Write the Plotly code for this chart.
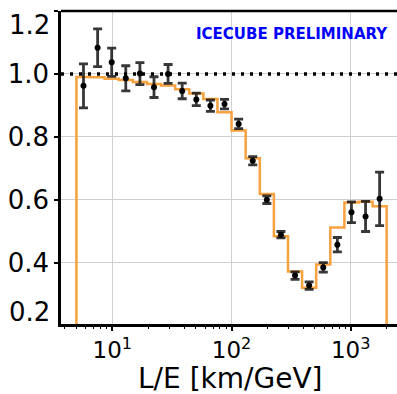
import plotly.graph_objects as go

# ---- data ----
bin_edges = [5.00, 6.57, 8.62, 11.32, 14.87, 19.52, 25.63, 33.66, 44.20, 58.04,
             76.21, 100.08, 131.4, 172.6, 226.6, 297.6, 390.7, 513.1, 673.7,
             884.7, 1161.7, 1525.5, 2000.0]
hist_values = [0.990, 0.989, 0.985, 0.981, 0.974, 0.968, 0.963, 0.951, 0.938,
               0.920, 0.878, 0.820, 0.732, 0.618, 0.484, 0.372, 0.320, 0.394,
               0.512, 0.591, 0.594, 0.579]
point_x = [5.73, 7.53, 9.88, 12.97, 17.04, 22.37, 29.37, 38.57, 50.65, 66.51,
           87.33, 114.7, 150.6, 197.8, 259.7, 341.0, 447.8, 588.0, 772.1,
           1013.8, 1331.2, 1746.8]
point_y = [0.962, 1.083, 1.037, 0.986, 1.001, 0.958, 1.000, 0.946, 0.919,
           0.899, 0.904, 0.841, 0.724, 0.600, 0.489, 0.359, 0.327, 0.385,
           0.457, 0.560, 0.547, 0.603]
point_err = [0.070, 0.060, 0.045, 0.040, 0.035, 0.033, 0.030, 0.025, 0.020,
             0.018, 0.015, 0.015, 0.013, 0.012, 0.010, 0.012, 0.012, 0.015,
             0.023, 0.033, 0.048, 0.085]
x_tickvals = [10, 100, 1000]
x_ticktext = ["10<sup>1</sup>", "10<sup>2</sup>", "10<sup>3</sup>"]
y_tickvals = [0.2, 0.4, 0.6, 0.8, 1.0, 1.2]
y_ticktext = ["", "0.4", "0.6", "0.8", "1.0", ""]

FONT = "DejaVu Sans"

# step outline of the histogram
step_x = [bin_edges[0]]
step_y = [0.0]
for i, v in enumerate(hist_values):
    step_x += [bin_edges[i], bin_edges[i + 1]]
    step_y += [v, v]
step_x.append(bin_edges[-1])
step_y.append(0.0)

minor_vals = [m * 10 ** d for d in range(0, 4) for m in range(2, 10)]

fig = go.Figure()
fig.add_trace(go.Scatter(x=step_x, y=step_y, mode="lines",
                         line=dict(color="#f7a13f", width=2.5),
                         hoverinfo="skip", showlegend=False))
fig.add_trace(go.Scatter(x=point_x, y=point_y, mode="markers",
                         marker=dict(color="black", size=6),
                         error_y=dict(type="data", array=point_err,
                                      color="rgba(20,20,20,0.85)",
                                      thickness=2.8, width=4.5),
                         showlegend=False))

fig.add_shape(type="line", xref="paper", yref="y", x0=0, x1=1, y0=1.0, y1=1.0,
              line=dict(color="black", width=3.5, dash="3px,6px"))
fig.add_shape(type="line", xref="paper", yref="paper", x0=0, x1=1, y0=1, y1=1,
              line=dict(color="black", width=2.5))

fig.add_annotation(text="<b>ICECUBE PRELIMINARY</b>", xref="paper", yref="paper",
                   x=0.6875, y=0.9265, xanchor="center", yanchor="middle",
                   showarrow=False,
                   font=dict(family=FONT, size=15, color="#0000ff"))
# extreme y tick labels (drawn shifted inward as in the reference)
fig.add_annotation(text="1.2", xref="paper", yref="paper", x=0, y=0.955,
                   xanchor="right", yanchor="middle", xshift=-9, showarrow=False,
                   font=dict(family=FONT, size=26, color="black"))
fig.add_annotation(text="0.2", xref="paper", yref="paper", x=0, y=0.039,
                   xanchor="right", yanchor="middle", xshift=-9, showarrow=False,
                   font=dict(family=FONT, size=26, color="black"))
# x axis title
fig.add_annotation(text="L/E [km/GeV]", xref="paper", yref="paper",
                   x=0.504, y=-0.175, xanchor="center", yanchor="middle",
                   showarrow=False,
                   font=dict(family=FONT, size=28, color="black"))

fig.update_layout(
    width=397, height=394,
    margin=dict(l=61, r=0, t=11, b=70),
    paper_bgcolor="white", plot_bgcolor="white",
    font=dict(family=FONT, color="black"),
)
fig.update_xaxes(
    type="log", range=[0.5696, 3.388], automargin=False,
    tickmode="array", tickvals=x_tickvals, ticktext=x_ticktext,
    tickfont=dict(size=23), ticks="outside", ticklen=4, tickwidth=1.5,
    tickcolor="black",
    showgrid=True, gridcolor="#cfcfcf", gridwidth=1,
    showline=True, linecolor="black", linewidth=2.5,
    zeroline=False,
    minor=dict(tickmode="array", tickvals=minor_vals, ticks="outside",
               ticklen=2.5, tickwidth=1, tickcolor="black", showgrid=False),
)
fig.update_yaxes(
    range=[0.205, 1.2], automargin=False,
    tickmode="array", tickvals=y_tickvals, ticktext=y_ticktext,
    tickfont=dict(size=26), ticks="outside", ticklen=4, tickwidth=1.5,
    tickcolor="black",
    showgrid=True, gridcolor="#cfcfcf", gridwidth=1,
    showline=True, linecolor="black", linewidth=2.5, zeroline=False,
)

fig.write_html("out.html")
